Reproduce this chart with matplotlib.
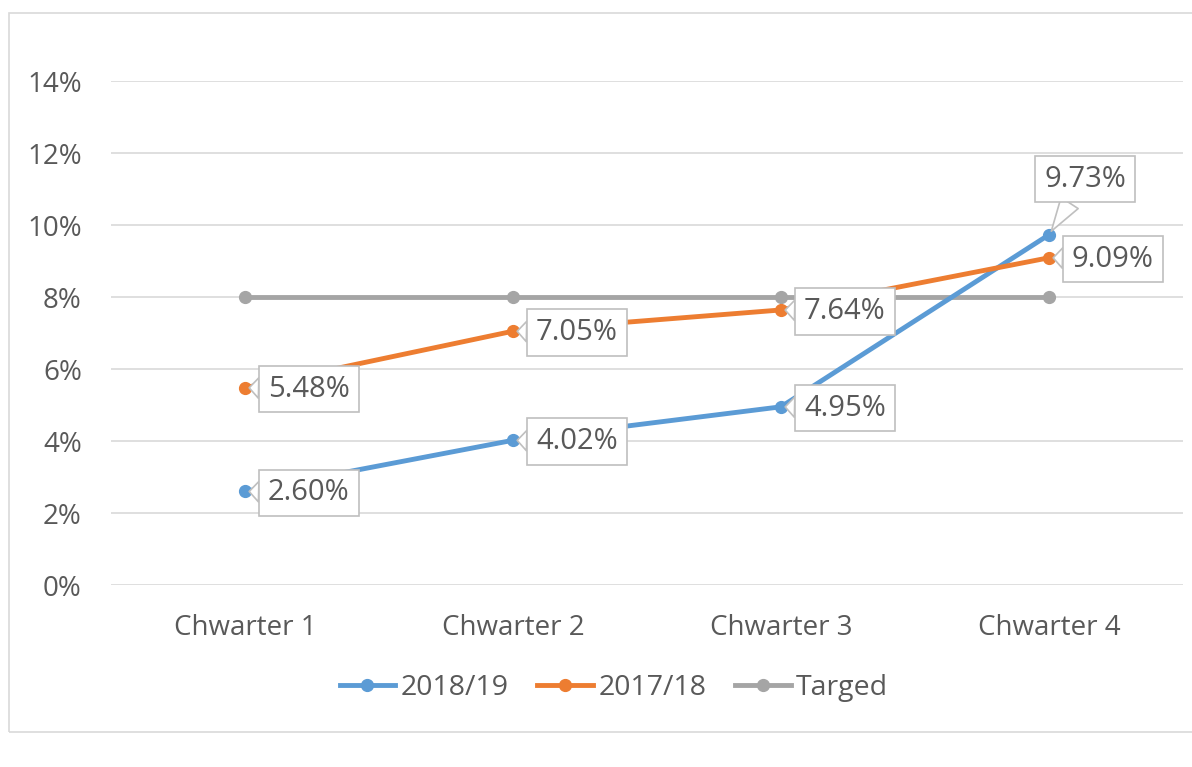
import matplotlib.pyplot as plt
from matplotlib.patches import Rectangle
from matplotlib.ticker import FuncFormatter

# data
quarters = ['Chwarter 1', 'Chwarter 2', 'Chwarter 3', 'Chwarter 4']
y2018 = [2.60, 4.02, 4.95, 9.73]
y2017 = [5.48, 7.05, 7.64, 9.09]
target = [8, 8, 8, 8]
yticks = [0, 2, 4, 6, 8, 10, 12, 14]

blue = '#5B9BD5'
orange = '#ED7D31'
grey = '#A5A5A5'
txt = '#595959'

plt.rcParams['font.family'] = ['Open Sans', 'DejaVu Sans']

fig = plt.figure(figsize=(11.92, 7.67), dpi=100)
W, H = 1192, 767
ax = fig.add_axes([111 / W, 1 - 585 / H, (1183 - 111) / W, (585 - 81) / H])

# outer chart border
fig.patches.append(Rectangle((9 / W, 1 - 732 / H), 1.2, (732 - 13) / H,
                             transform=fig.transFigure, fill=False,
                             ec='#D9D9D9', lw=1.2))

x = list(range(len(quarters)))
ax.plot(x, y2018, color=blue, lw=3.5, marker='o', ms=8.5, label='2018/19', zorder=3)
ax.plot(x, y2017, color=orange, lw=3.5, marker='o', ms=8.5, label='2017/18', zorder=3)
ax.plot(x, target, color=grey, lw=3.5, marker='o', ms=8.5, label='Targed', zorder=2)

ax.set_xlim(-0.5, 3.5)
ax.set_ylim(0, 14)
ax.set_yticks(yticks)
ax.yaxis.set_major_formatter(FuncFormatter(lambda v, p: f'{v:.0f}%'))
ax.set_xticks(x)
ax.set_xticklabels(quarters)
ax.grid(axis='y', color='#D9D9D9', lw=1.2)
ax.set_axisbelow(True)
for s in ax.spines.values():
    s.set_visible(False)
ax.tick_params(length=0, labelsize=20, colors=txt)
ax.tick_params(axis='x', pad=21)
ax.tick_params(axis='y', pad=21)


def callout(xv, yv, dx, dy):
    ax.annotate(f'{yv:.2f}%', (xv, yv), xytext=(dx, dy), textcoords='offset points',
                ha='center', va='center', fontsize=21, color=txt, zorder=5,
                bbox=dict(boxstyle='square,pad=0.3', fc='white', ec='#BFBFBF', lw=1.2),
                arrowprops=dict(arrowstyle='wedge,tail_width=0.7,shrink_factor=0.5',
                                fc='white', ec='#BFBFBF', lw=1.2, shrinkA=0, shrinkB=3))


for i in range(3):
    callout(i, y2018[i], 46, -1)
    callout(i, y2017[i], 46, -1)
callout(3, y2018[3], 26, 40)
callout(3, y2017[3], 46, -1)

leg = fig.legend(loc='center', bbox_to_anchor=(614 / W, 1 - 688 / H), ncol=3, frameon=False,
                 fontsize=20.5, handlelength=1.95, handletextpad=0.2, columnspacing=1.0)
for t in leg.get_texts():
    t.set_color(txt)

fig.savefig('out.png', dpi=100)
